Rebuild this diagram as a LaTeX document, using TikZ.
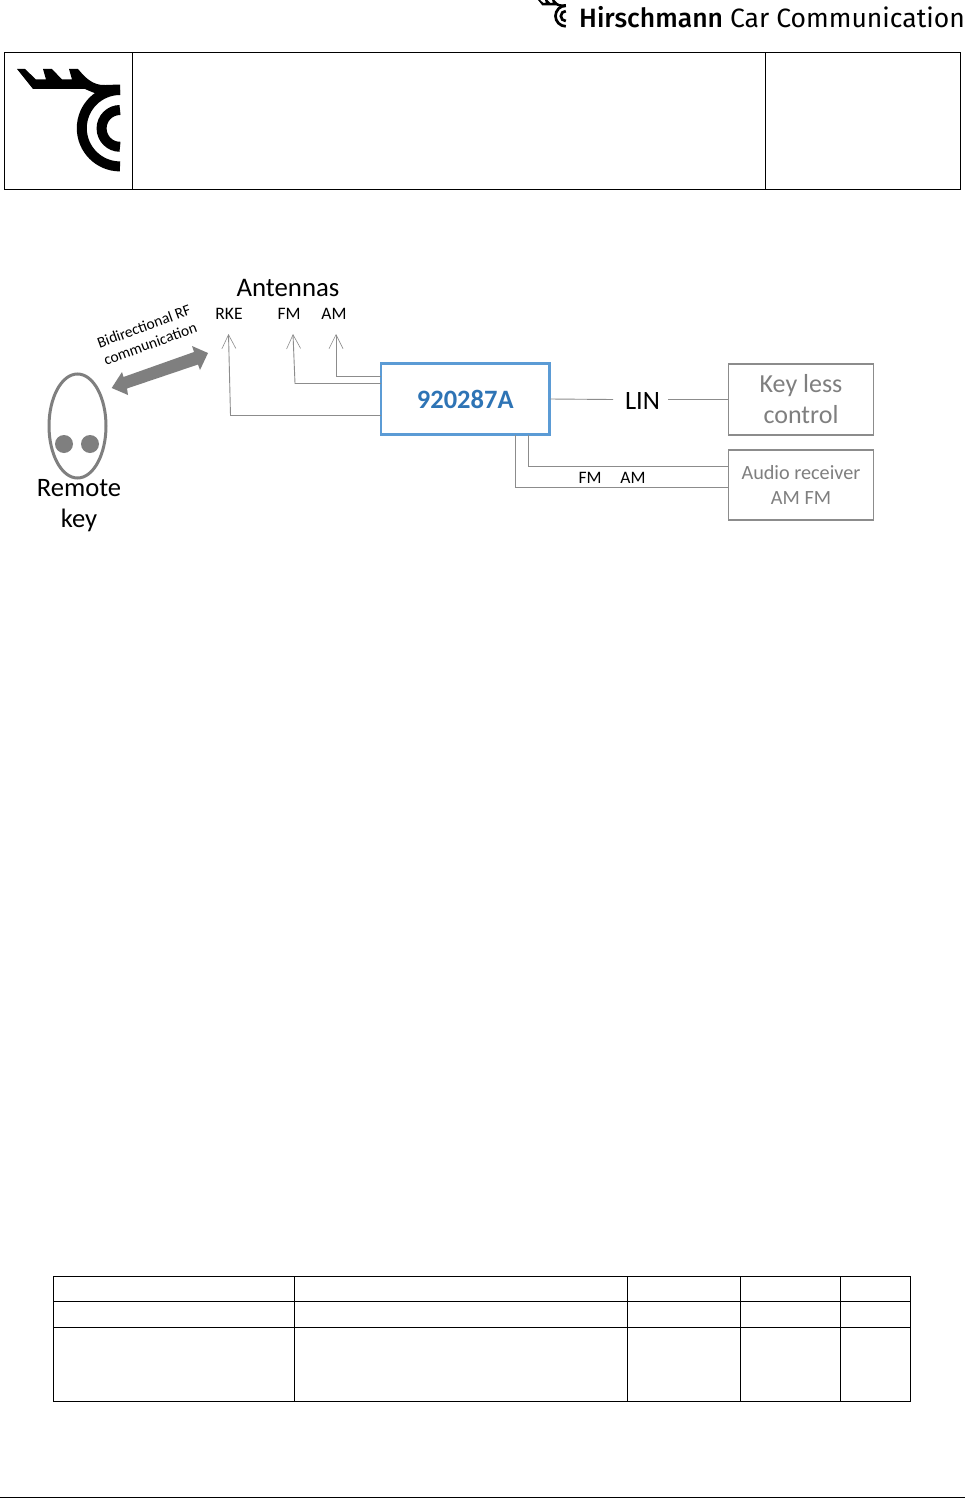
\documentclass[tikz,border=0pt]{standalone}
\usepackage{fontspec}
\setmainfont{Carlito}
\newfontfamily\hdr[BoldFont={Fira Sans Medium}]{Fira Sans}
\usetikzlibrary{arrows.meta,shapes.geometric}
\definecolor{wire}{RGB}{140,140,140}
\definecolor{keygray}{RGB}{127,127,127}
\definecolor{blueedge}{RGB}{91,155,213}
\definecolor{bluetext}{RGB}{46,116,181}
\newcommand{\hccmark}[1]{%
 \fill[black,rounded corners=0.2pt] (17,69) -- (25,69) -- (36,79.5) -- (46,79.5) -- (43,69) -- (52,69) -- (62,79.5) -- (72,79.5) -- (69,69) -- (78,69)
   .. controls (84,76) and (92,86) .. (106,85) -- (120,84.5) -- (120,95) -- (106,95) .. controls (100,95) and (96,94) .. (85,89) -- (33,89) -- cycle;
 \draw[line width=#1,draw=black] (120,90) arc[start angle=-90,end angle=-270,radius=38.2];
 \draw[line width=#1,draw=black] (120,110) arc[start angle=-90,end angle=-270,radius=18.4];}
\tikzset{
  px/.style={x=1pt,y=-1pt},
  frame/.style={draw=black,line width=1pt},
  wirel/.style={draw=wire,line width=0.9pt},
  antarrow/.style={wirel,-{Straight Barb[length=14pt,width=14pt,line width=0.6pt]}},
  graybox/.style={draw=wire,line width=1.3pt,rectangle,anchor=north west,inner sep=0pt,outer sep=0pt,align=center,text=keygray},
  lbl/.style={inner sep=0pt,align=center,text=black}
}
\begin{document}
\begin{tikzpicture}[px]
\useasboundingbox (0,0) rectangle (965,1498);
\fill[white] (0,0) rectangle (965,1498);
% header
\node[lbl,anchor=base east,font=\hdr\fontsize{26.5}{26.5}\selectfont] (brand) at (965,27.5) {\textbf{Hirschmann} Car Communication};
\begin{scope}
 \clip (530,0) rectangle (575,32);
 \begin{scope}[shift={(538,0)},scale=0.27,shift={(-17,-69)}]
  \hccmark{2.7pt}
 \end{scope}
\end{scope}
% header frame
\draw[frame] (4.5,52.5) rectangle (960.5,189.5);
\draw[frame] (132.5,52.5) -- (132.5,189.5);
\draw[frame] (765.5,52.5) -- (765.5,189.5);
% logo
\hccmark{10pt}
% key
\node[draw=keygray,line width=3pt,ellipse,minimum width=57pt,minimum height=104pt,inner sep=0pt] (key) at (77.5,426) {};
\node[fill=keygray,circle,minimum size=18pt,inner sep=0pt] (b1) at (64,444) {};
\node[fill=keygray,circle,minimum size=18pt,inner sep=0pt] (b2) at (90,444) {};
\node[lbl,font=\fontsize{26.6}{31}\selectfont] (rk) at (79,506) {Remote\\key};
% RF arrow
\fill[keygray] (111.7,388) -- (122,372) -- (123.5,377) -- (194,352) -- (192,346) -- (208,353) -- (200,370) -- (198,364.5) -- (127,388.5) -- (128,395) -- cycle;
\node[lbl,rotate=20,font=\fontsize{15.5}{18.5}\selectfont] (rf) at (147,335) {Bidirectional RF\\communication};
% labels
\node[lbl,font=\fontsize{26.8}{26.8}\selectfont] (ant) at (288,287.5) {Antennas};
\node[lbl,font=\fontsize{17.5}{17.5}\selectfont] (rke) at (229,314) {RKE};
\node[lbl,font=\fontsize{17.5}{17.5}\selectfont] (fm) at (289,314) {FM};
\node[lbl,font=\fontsize{17.5}{17.5}\selectfont] (am) at (334,314) {AM};
% main box
\node[draw=blueedge,line width=2.4pt,rectangle,anchor=north west,minimum width=168.5pt,minimum height=71pt,inner sep=0pt,outer sep=0pt,text=bluetext,font=\bfseries\fontsize{26.5}{26.5}\selectfont] (main) at (381,363.5) {920287A};
% antenna wires
\coordinate (rket) at (228.5,334);
\coordinate (fmt) at (293,334);
\coordinate (amt) at (336,334);
\draw[antarrow] (main.west |- 0,415.5) -- (230.5,415.5) -- (rket);
\draw[antarrow] (main.west |- 0,383.5) -- (295,383.5) -- (fmt);
\draw[antarrow] (main.west |- 0,376.5) -- (336,376.5) -- (amt);
% right boxes
\node[graybox,minimum width=145pt,minimum height=71pt,font=\fontsize{26}{31}\selectfont] (kl) at (728.5,364) {Key less\\control};
\node[graybox,minimum width=145pt,minimum height=70pt,font=\fontsize{20.2}{24.5}\selectfont] (ar) at (728.5,450) {Audio receiver\\AM FM};
\node[lbl,font=\fontsize{26.5}{26.5}\selectfont] (lin) at (642.5,400.5) {LIN};
\coordinate (linl) at (613,399.5);
\coordinate (linr) at (668,399.5);
\draw[wirel] (main.east) -- (linl);
\draw[wirel] (linr) -- (kl.west);
% audio wires
\draw[wirel] (528.5,0 |- main.south) -- (528.5,466.5) -- (ar.west |- 0,466.5);
\draw[wirel] (515.5,0 |- main.south) -- (515.5,487.5) -- (ar.west |- 0,487.5);
\node[lbl,font=\fontsize{17.5}{17.5}\selectfont] (fm2) at (590,478) {FM};
\node[lbl,font=\fontsize{17.5}{17.5}\selectfont] (am2) at (633,478) {AM};
% bottom table
\draw[frame] (53.5,1276.5) rectangle (910.5,1401.5);
\draw[frame] (53.5,1301.5) -- (910.5,1301.5);
\draw[frame] (53.5,1327.5) -- (910.5,1327.5);
\foreach \tx in {294.5,627.5,740.5,840.5} \draw[frame] (\tx,1276.5) -- (\tx,1401.5);
\draw[black,line width=1pt] (0,1497) -- (965,1497);
\end{tikzpicture}
\end{document}
